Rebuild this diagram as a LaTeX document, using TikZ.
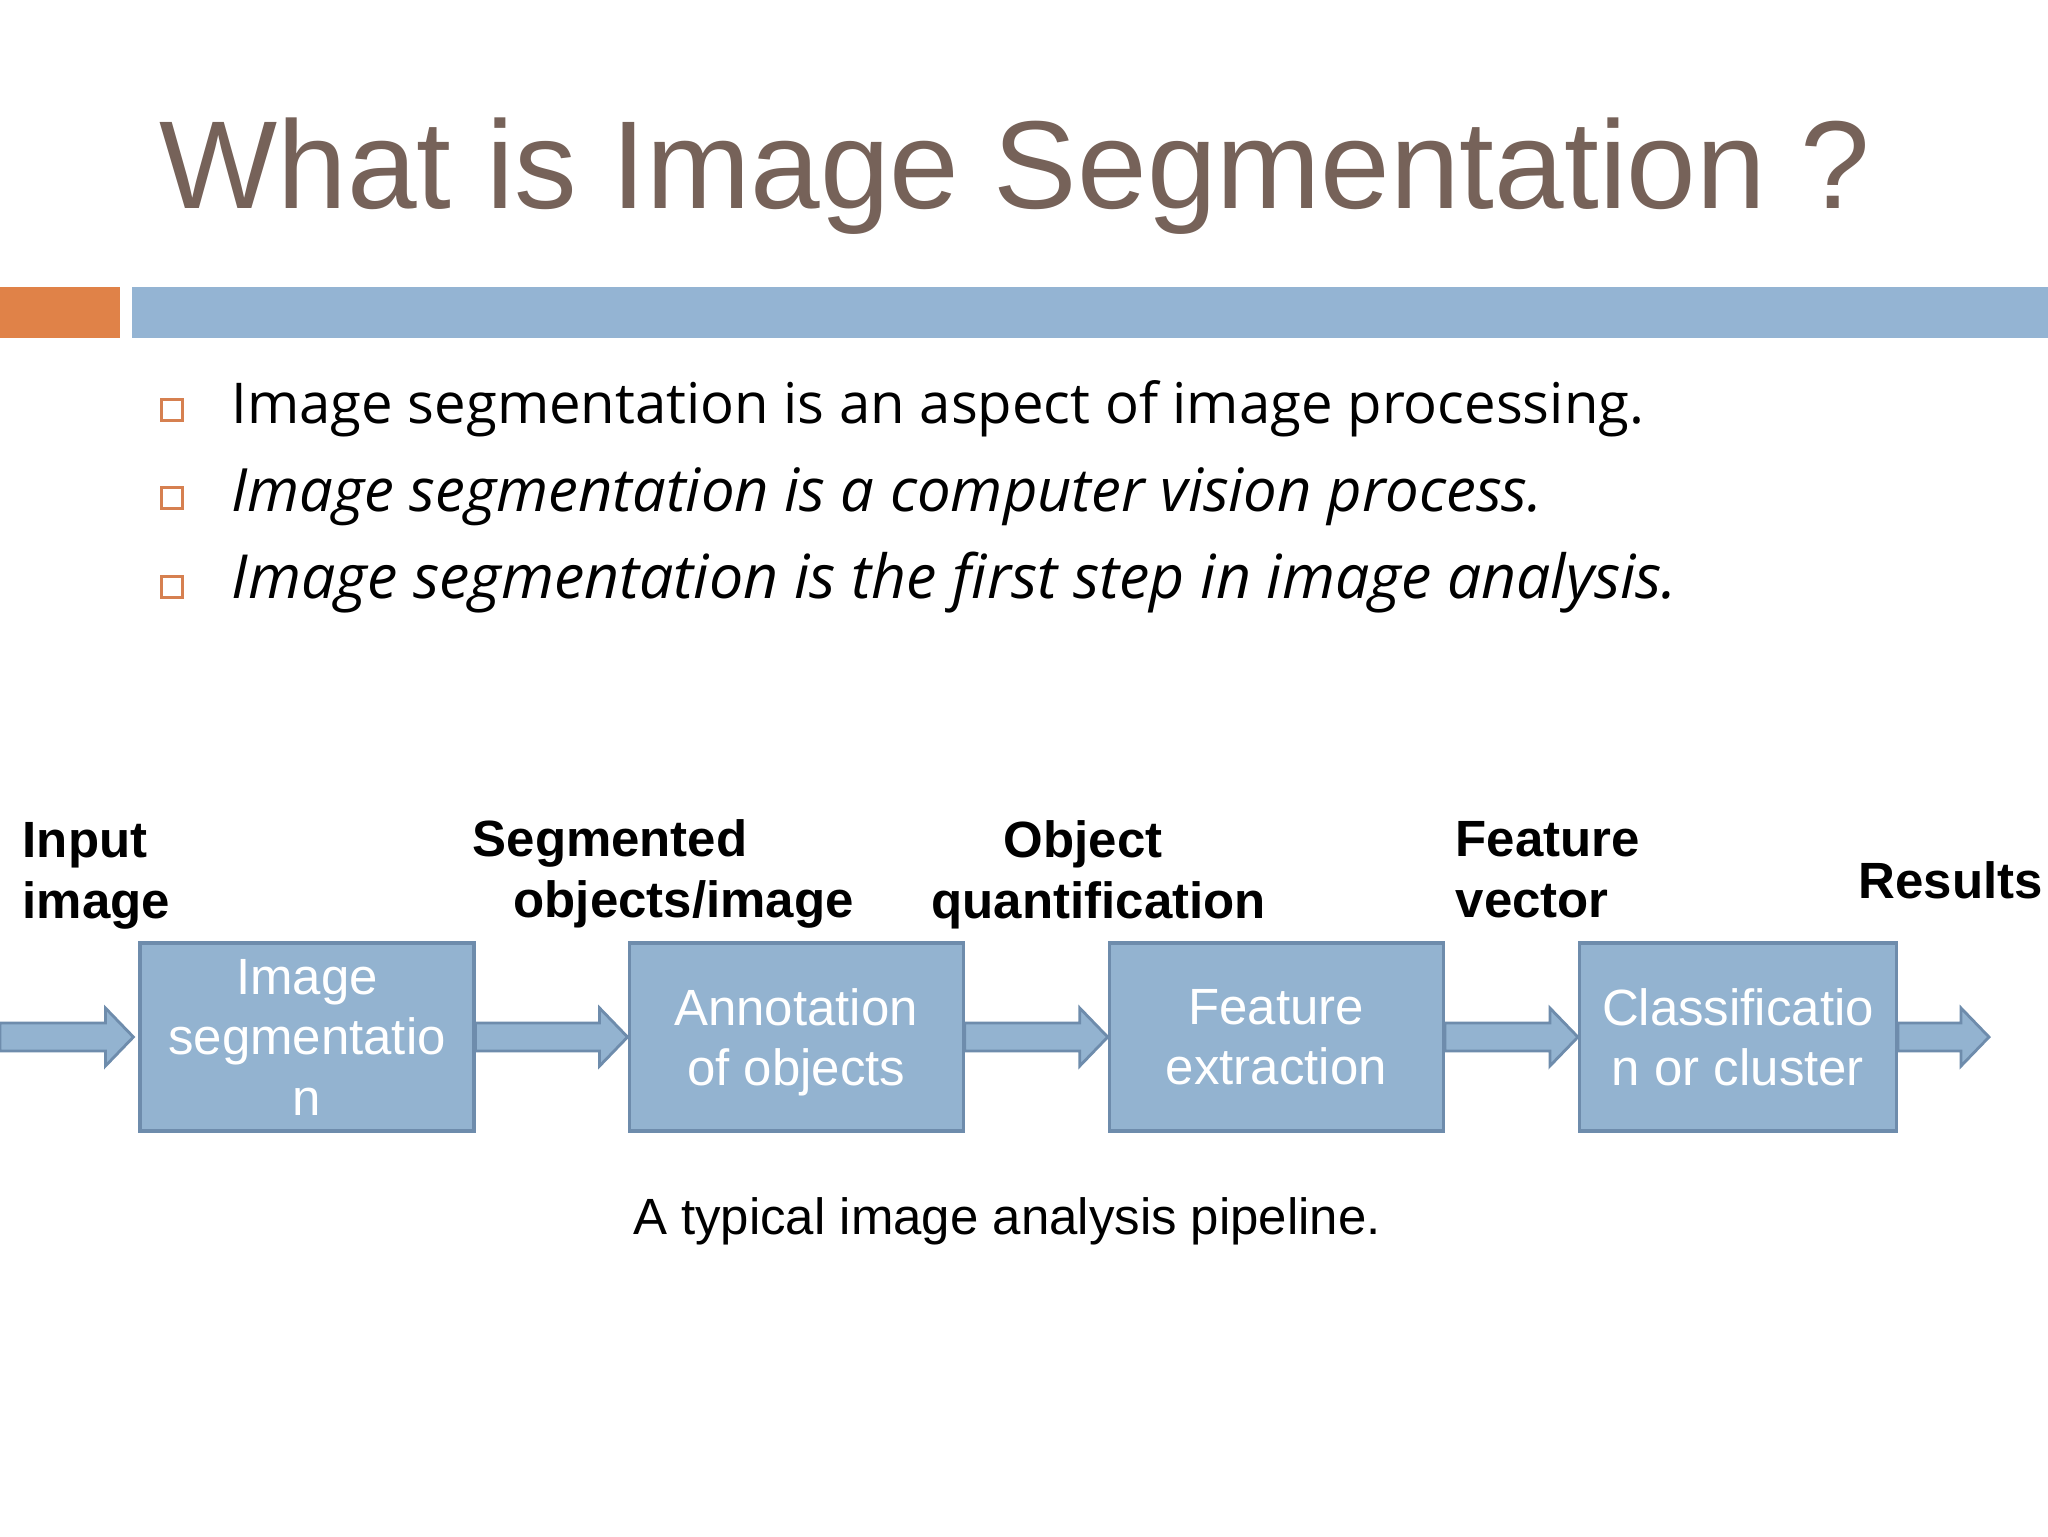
\documentclass[tikz,border=0pt]{standalone}
\usepackage{fontspec}
\setmainfont{Liberation Sans}
\newfontfamily\pointfont{Open Sans}
\usetikzlibrary{positioning,calc}

\definecolor{titlebrown}{RGB}{118,98,89}
\definecolor{barorange}{RGB}{224,130,72}
\definecolor{barblue}{RGB}{148,180,211}
\definecolor{stagefill}{RGB}{147,179,208}
\definecolor{stageline}{RGB}{110,140,172}
\definecolor{tickorange}{RGB}{214,128,80}

\begin{document}
\begin{tikzpicture}[x=0.1mm,y=-0.1mm,node distance=15mm,
                    stage/.style={draw=stageline,fill=stagefill,line width=0.9pt,
                      minimum width=33.4mm,minimum height=18.8mm,inner sep=0pt,
                      text=white,align=center,font=\fontsize{14.5}{17.2}\selectfont},
                    tag/.style={anchor=base west,align=left,inner sep=0pt,
                      font=\fontsize{14.5}{17.1}\selectfont\bfseries},
                    pipe/.style={draw=stageline,fill=stagefill,line width=0.8pt,
                      to path={($(\tikztostart)+(0,14)$) -- ($(\tikztotarget)+(-28,14)$)
                        -- ($(\tikztotarget)+(-28,29)$) -- (\tikztotarget)
                        -- ($(\tikztotarget)+(-28,-29)$) -- ($(\tikztotarget)+(-28,-14)$)
                        -- ($(\tikztostart)+(0,-14)$) -- cycle}},
                    tick/.style={draw=tickorange,line width=0.6pt,minimum size=2.1mm,inner sep=0pt},
                    point/.style={anchor=base west,inner sep=0pt,
                      font=\pointfont\fontsize{16}{19}\selectfont}]
  \useasboundingbox[fill=white] (0,0) rectangle (2048,1536);

  % heading and bars
  \node[anchor=base west,inner sep=0pt,text=titlebrown,
        font=\fontsize{35.6}{40}\selectfont] (title) at (159,208) {What is Image Segmentation ?};
  \fill[barorange] (0,287) rectangle (120,338);
  \fill[barblue] (132,287) rectangle (2048,338);

  % bullet points
  \node[tick] (t1) at (172,410) {};
  \node[tick] (t2) at (172,498) {};
  \node[tick] (t3) at (172,587) {};
  \node[point] (p1) at (231,423) {Image segmentation is an aspect of image processing.};
  \node[point] (p2) at (231,511) {\fontsize{17}{19}\selectfont\itshape Image segmentation is a computer vision process.};
  \node[point] (p3) at (231,598) {\fontsize{17.3}{19}\selectfont\itshape Image segmentation is the first step in image analysis.};

  % pipeline
  \node[stage] (seg) at (307,1037) {Image\\segmentatio\\n};
  \node[stage] (ann) [right=15.2mm of seg] {Annotation\\\smash{of objects}};
  \node[stage] (fex) [right=14.3mm of ann] {Feature\\extraction};
  \node[stage,minimum width=31.7mm] (cls) [right=13.3mm of fex] {Classificatio\\n or cluster};
  \coordinate (src) at (0,1037);
  \coordinate (sink) at (1989,1037);

  \draw[pipe] (src) to ($(seg.west)+(-5,0)$);
  \draw[pipe] (seg.east) to (ann.west);
  \draw[pipe] (ann.east) to (fex.west);
  \draw[pipe] (fex.east) to (cls.west);
  \draw[pipe] (cls.east) to (sink);

  % labels over the arrows (base = last line)
  \node[tag] (lin) at (22,918) {Input\\image};
  \node[tag] (lseg) at (472,917) {Segmented\\\hspace{4.1mm}objects/image};
  \node[tag] (lobj) at (931,918) {\hspace{7.2mm}Object\\quantification};
  \node[tag] (lfv) at (1455,917) {Feature\\vector};
  \node[tag] (lres) at (1858,898) {Results};

  \node[anchor=base,inner sep=0pt,font=\fontsize{14.5}{17}\selectfont] (cap) at (1007,1234)
    {A typical image analysis pipeline.};
\end{tikzpicture}
\end{document}
